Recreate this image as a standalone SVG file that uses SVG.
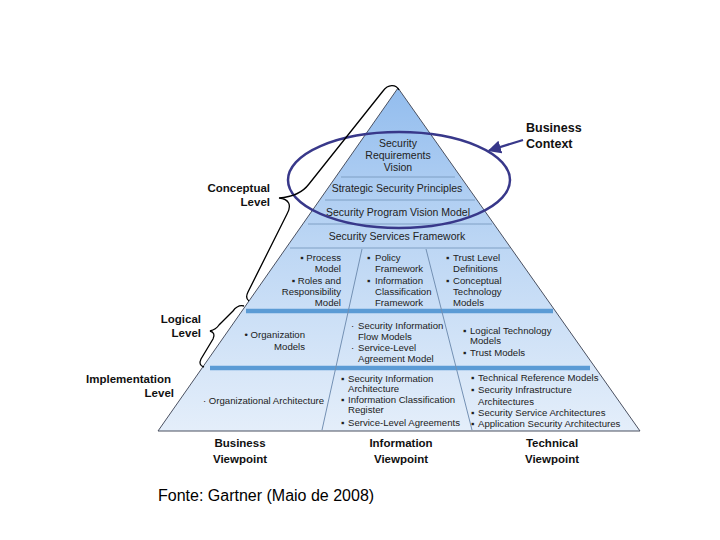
<svg xmlns="http://www.w3.org/2000/svg" width="720" height="540" viewBox="0 0 720 540">
<defs>
<linearGradient id="pg" x1="0" y1="88" x2="0" y2="431" gradientUnits="userSpaceOnUse">
<stop offset="0" stop-color="#93bdee"/>
<stop offset="0.45" stop-color="#bcd6f4"/>
<stop offset="1" stop-color="#e4eefa"/>
</linearGradient>
<marker id="ah" viewBox="0 0 10 10" refX="9" refY="5" markerWidth="6" markerHeight="6" orient="auto" markerUnits="strokeWidth">
<path d="M0,0 L10,5 L0,10 z" fill="#38388a"/>
</marker>
<style>
.t{font-family:"Liberation Sans",Arial,sans-serif;font-size:10.5px;fill:#222;text-anchor:middle}
.c{font-family:"Liberation Sans",Arial,sans-serif;font-size:9.6px;fill:#222}
.e{text-anchor:end}
.b{font-family:"Liberation Sans",Arial,sans-serif;font-size:11.5px;font-weight:bold;fill:#111}
.thin{stroke:#7f9fc4;stroke-width:1;fill:none}
.thick{stroke:#5b9bd5;stroke-width:4.5;fill:none}
.div{stroke:#7390b3;stroke-width:1;fill:none}
.brace{stroke:#000;stroke-width:1.3;fill:none}
</style>
</defs>
<rect width="720" height="540" fill="#fff"/>

<g id="pyramid">
<polygon points="398,88 158,431 640,431" fill="url(#pg)" stroke="#4a5060" stroke-width="1"/>
<line class="thin" x1="341" y1="177" x2="455" y2="177"/>
<line class="thin" x1="325" y1="200" x2="475" y2="200"/>
<line class="thin" x1="308" y1="224" x2="492" y2="224"/>
<line class="thin" x1="290" y1="248" x2="510" y2="248"/>
<line class="thick" x1="246" y1="311" x2="553" y2="311"/>
<line class="thick" x1="210" y1="368" x2="590" y2="368"/>
<line class="div" x1="362" y1="249" x2="322" y2="430"/>
<line class="div" x1="426" y1="249" x2="472" y2="430"/>
</g>

<g id="conceptual-top">
<text class="t" x="398" y="147">Security</text>
<text class="t" x="398" y="159">Requirements</text>
<text class="t" x="398" y="171">Vision</text>
<text class="t" x="397" y="192">Strategic Security Principles</text>
<text class="t" x="398" y="216">Security Program Vision Model</text>
<text class="t" x="397" y="240">Security Services Framework</text>
</g>

<g id="conceptual-business">
<text class="c e" x="341" y="260.5">▪ Process</text>
<text class="c e" x="341" y="271.5">Model</text>
<text class="c e" x="341" y="283.5">▪ Roles and</text>
<text class="c e" x="341" y="294.5">Responsibility</text>
<text class="c e" x="341" y="305.5">Model</text>
</g>
<g id="conceptual-information">
<text class="c" x="367" y="260.5">▪</text><text class="c" x="375" y="260.5">Policy</text>
<text class="c" x="375" y="271.5">Framework</text>
<text class="c" x="367" y="283.5">▪</text><text class="c" x="375" y="283.5">Information</text>
<text class="c" x="375" y="294.5">Classification</text>
<text class="c" x="375" y="305.5">Framework</text>
</g>
<g id="conceptual-technical">
<text class="c" x="446" y="260.5">▪</text><text class="c" x="453" y="260.5">Trust Level</text>
<text class="c" x="453" y="271.5">Definitions</text>
<text class="c" x="446" y="283.5">▪</text><text class="c" x="453" y="283.5">Conceptual</text>
<text class="c" x="453" y="294.5">Technology</text>
<text class="c" x="453" y="305.5">Models</text>
</g>

<g id="logical-business">
<text class="c e" x="305" y="337.5">• Organization</text>
<text class="c e" x="305" y="349.5">Models</text>
</g>
<g id="logical-information">
<text class="c" x="351" y="328.5">·</text><text class="c" x="358" y="328.5">Security Information</text>
<text class="c" x="358" y="339.5">Flow Models</text>
<text class="c" x="351" y="350.5">·</text><text class="c" x="358" y="350.5">Service-Level</text>
<text class="c" x="358" y="361.5">Agreement Model</text>
</g>
<g id="logical-technical">
<text class="c" x="463" y="333.5">▪</text><text class="c" x="470" y="333.5">Logical Technology</text>
<text class="c" x="470" y="343.5">Models</text>
<text class="c" x="463" y="355.5">▪</text><text class="c" x="470" y="355.5">Trust Models</text>
</g>

<g id="implementation-business">
<text class="c" x="203" y="403.5">· Organizational Architecture</text>
</g>
<g id="implementation-information">
<text class="c" x="341" y="381.5">▪</text><text class="c" x="348" y="381.5">Security Information</text>
<text class="c" x="348" y="391.5">Architecture</text>
<text class="c" x="341" y="402.5">▪</text><text class="c" x="348" y="402.5">Information Classification</text>
<text class="c" x="348" y="412.5">Register</text>
<text class="c" x="341" y="425.5">▪</text><text class="c" x="348" y="425.5">Service-Level Agreements</text>
</g>
<g id="implementation-technical">
<text class="c" x="471" y="380.5">▪</text><text class="c" x="478" y="380.5">Technical Reference Models</text>
<text class="c" x="471" y="392.5">▪</text><text class="c" x="478" y="392.5">Security Infrastructure</text>
<text class="c" x="478" y="404.5">Architectures</text>
<text class="c" x="471" y="415.5">▪</text><text class="c" x="478" y="415.5">Security Service Architectures</text>
<text class="c" x="471" y="426.5">▪</text><text class="c" x="478" y="426.5">Application Security Architectures</text>
</g>

<g id="business-context">
<ellipse cx="399" cy="180" rx="111" ry="48" fill="none" stroke="#38388a" stroke-width="2.5"/>
<text class="b" x="526" y="132" style="font-size:12.5px">Business</text>
<text class="b" x="526" y="147.5" style="font-size:12.5px">Context</text>
</g>

<g id="connectors">
<line x1="523" y1="140" x2="489" y2="150.5" stroke="#38388a" stroke-width="2.2" marker-end="url(#ah)"/>
<path class="brace" d="M 399 90 C 396 84, 388 84, 383 91 L 309 184 C 303 192, 293 197, 279 198 C 289 199, 292 205, 287 214 L 248 292 C 246 296, 246 299, 249 301"/>
<path class="brace" d="M 244 306 C 240 305, 236 307, 233 311 L 219 325 C 217 328, 214 330, 210 331 C 214 332, 215 335, 213 339 L 201 359 C 199 363, 200 366, 204 367"/>
</g>

<g id="level-labels">
<text class="b e" x="270" y="192">Conceptual</text>
<text class="b e" x="270" y="206">Level</text>
<text class="b e" x="201" y="323">Logical</text>
<text class="b e" x="201" y="337">Level</text>
<text class="b e" x="171" y="383">Implementation</text>
<text class="b e" x="174" y="397">Level</text>
</g>

<g id="viewpoints">
<text class="b" x="240" y="447" text-anchor="middle">Business</text>
<text class="b" x="240" y="463" text-anchor="middle">Viewpoint</text>
<text class="b" x="401" y="447" text-anchor="middle">Information</text>
<text class="b" x="401" y="463" text-anchor="middle">Viewpoint</text>
<text class="b" x="552" y="447" text-anchor="middle">Technical</text>
<text class="b" x="552" y="463" text-anchor="middle">Viewpoint</text>
</g>

<text x="158" y="501" style="font-family:'Liberation Sans',Arial,sans-serif;font-size:16px;fill:#000">Fonte: Gartner (Maio de 2008)</text>
</svg>
